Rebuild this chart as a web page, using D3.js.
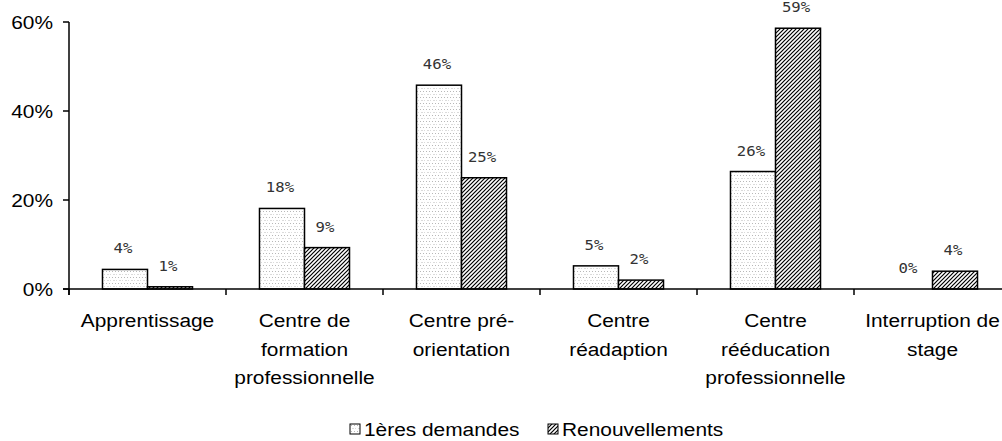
<!DOCTYPE html>
<html>
<head>
<meta charset="utf-8">
<script src="https://cdn.jsdelivr.net/npm/d3@7"></script>
<style>
  body { margin: 0; background: #fff; }
  svg { display: block; }
</style>
</head>
<body>
<div id="chart"></div>
<script>
// data
const categories = [
  ["Apprentissage"],
  ["Centre de", "formation", "professionnelle"],
  ["Centre pré-", "orientation"],
  ["Centre", "réadaption"],
  ["Centre", "rééducation", "professionnelle"],
  ["Interruption de", "stage"],
];
const seriesNames = ["1ères demandes", "Renouvellements"];
const premieres = [4.4, 18.1, 45.8, 5.2, 26.4, 0];
const renouvellements = [0.5, 9.3, 25.0, 2.0, 58.6, 4.0];
const yTicks = [0, 20, 40, 60];

const width = 1002, height = 441;
const stretch = 1.16; // text in the source is widened horizontally

const svg = d3.select("#chart").append("svg")
  .attr("width", width).attr("height", height);

// patterns
const defs = svg.append("defs");
const dots = defs.append("pattern").attr("id", "dots")
  .attr("patternUnits", "userSpaceOnUse").attr("width", 6).attr("height", 6);
dots.append("rect").attr("width", 6).attr("height", 6).attr("fill", "#fff");
[[1, 1], [4, 1], [2.5, 4], [5.5, 4]].forEach(([x, y]) =>
  dots.append("rect").attr("x", x).attr("y", y).attr("width", 1).attr("height", 1).attr("fill", "#b8b8b8"));

const hatch = defs.append("pattern").attr("id", "hatch")
  .attr("patternUnits", "userSpaceOnUse").attr("width", 4).attr("height", 4);
hatch.append("rect").attr("width", 4).attr("height", 4).attr("fill", "#fff");
hatch.append("path").attr("d", "M-1,1 l2,-2 M0,4 l4,-4 M3,5 l2,-2")
  .attr("stroke", "#000").attr("stroke-width", 1.2);

const fills = ["url(#dots)", "url(#hatch)"];

// scales
const x0 = d3.scaleBand().domain(d3.range(categories.length)).range([69, 1011]).padding(0);
const x1 = d3.scaleBand().domain([0, 1]).range([0, x0.bandwidth()]).paddingInner(0).paddingOuter(0.744);
const y = d3.scaleLinear().domain([0, 60]).range([289, 22]);

const rows = categories.map((c, i) => [premieres[i], renouvellements[i]]);

// bars
const groups = svg.append("g").selectAll("g").data(rows).join("g")
  .attr("transform", (d, i) => `translate(${x0(i)},0)`);

groups.selectAll("rect").data(d => d.map((v, s) => ({ v, s }))).join("rect")
  .filter(d => d.v > 0)
  .attr("x", d => x1(d.s))
  .attr("y", d => y(d.v))
  .attr("width", x1.bandwidth())
  .attr("height", d => y(0) - y(d.v))
  .attr("fill", d => fills[d.s])
  .attr("stroke", "#000")
  .attr("stroke-width", 1.5);

// value labels
groups.selectAll("text").data(d => d.map((v, s) => ({ v, s }))).join("text")
  .attr("transform", d => `translate(${x1(d.s) + x1.bandwidth() / 2 - 2},${y(d.v) - 16}) scale(${stretch},1)`)
  .attr("text-anchor", "middle")
  .attr("font-family", "DejaVu Sans Mono")
  .attr("font-size", 13.5)
  .attr("fill", "#333")
  .text(d => Math.round(d.v) + "%");

// y axis
const yAxis = svg.append("g");
yAxis.append("line").attr("x1", 69).attr("x2", 69).attr("y1", y(60)).attr("y2", 295)
  .attr("stroke", "#000").attr("stroke-width", 1.5);
yTicks.forEach(t => {
  yAxis.append("line").attr("x1", 63).attr("x2", 69).attr("y1", y(t)).attr("y2", y(t))
    .attr("stroke", "#000").attr("stroke-width", 1.5);
  yAxis.append("text")
    .attr("transform", `translate(53,${y(t) + 6.5}) scale(${stretch},1)`)
    .attr("text-anchor", "end")
    .attr("font-family", "Liberation Sans, Arial, sans-serif")
    .attr("font-size", 18)
    .attr("fill", "#000")
    .text(t + "%");
});

// x axis
const xAxis = svg.append("g");
xAxis.append("line").attr("x1", 63).attr("x2", width).attr("y1", y(0)).attr("y2", y(0))
  .attr("stroke", "#000").attr("stroke-width", 1.5);
d3.range(categories.length).forEach(i => {
  xAxis.append("line").attr("x1", x0(i)).attr("x2", x0(i)).attr("y1", y(0)).attr("y2", 295)
    .attr("stroke", "#000").attr("stroke-width", 1.5);
});
categories.forEach((lines, i) => {
  lines.forEach((ln, k) => {
    xAxis.append("text")
      .attr("transform", `translate(${x0(i) + x0.bandwidth() / 2},${327 + k * 28.5}) scale(${stretch},1)`)
      .attr("text-anchor", "middle")
      .attr("font-family", "Liberation Sans, Arial, sans-serif")
      .attr("font-size", 18)
      .attr("fill", "#000")
      .text(ln);
  });
});

// legend
const legendX = [350, 548];
const legend = svg.append("g").selectAll("g").data(seriesNames).join("g")
  .attr("transform", (d, i) => `translate(${legendX[i]},424)`);
legend.append("rect").attr("width", 10).attr("height", 10)
  .attr("fill", (d, i) => fills[i]).attr("stroke", "#000").attr("stroke-width", 1);
legend.append("text")
  .attr("transform", `translate(14,12) scale(${stretch},1)`)
  .attr("font-family", "Liberation Sans, Arial, sans-serif")
  .attr("font-size", 18)
  .attr("fill", "#000")
  .text(d => d);
</script>
</body>
</html>
